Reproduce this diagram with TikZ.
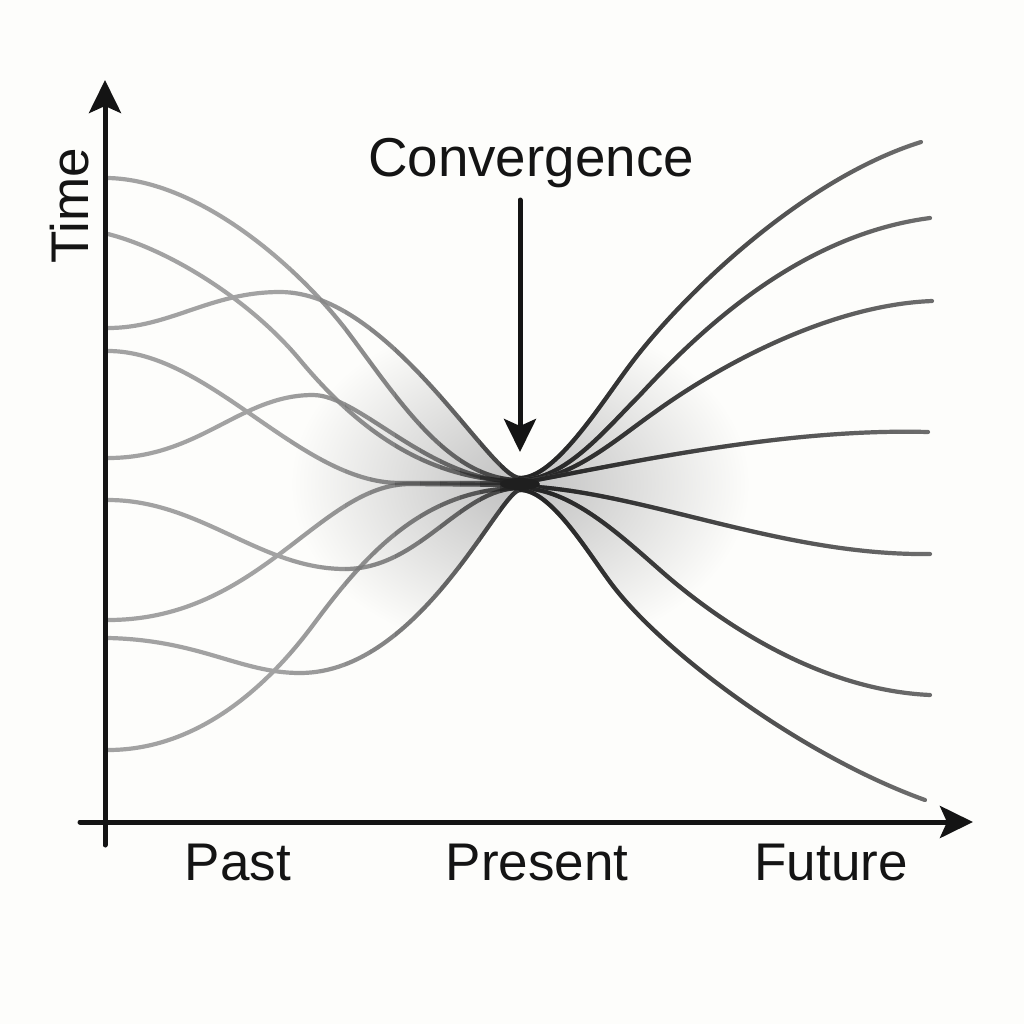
\documentclass[tikz,border=0pt]{standalone}
\usepackage{fontspec}
\setmainfont{Liberation Sans}
\usetikzlibrary{arrows.meta,fadings}
\tikzfading[name=fadeout, left color=transparent!0, middle color=transparent!45, right color=transparent!100]
\definecolor{lgray}{HTML}{A2A2A2}
\definecolor{dgray}{HTML}{222222}
\definecolor{rgray}{HTML}{6E6E6E}
\definecolor{bg}{HTML}{FDFDFB}
\newcommand\leftset[1]{%
  \draw[#1] (108,178) .. controls (200,180) and (300,268) .. (350,335) .. controls (400,402) and (450,480) .. (520,480);
  \draw[#1] (108,234) .. controls (170,250) and (250,300) .. (300,360) .. controls (350,420) and (420,481) .. (520,481);
  \draw[#1] (108,328) .. controls (170,328) and (210,292) .. (280,292) .. controls (390,292) and (490,478) .. (520,478);
  \draw[#1] (108,351) .. controls (210,351) and (300,483) .. (400,483) -- (520,483);
  \draw[#1] (108,458) .. controls (200,458) and (240,395) .. (313,395) .. controls (360,395) and (430,482) .. (520,482);
  \draw[#1] (108,500) .. controls (200,500) and (260,569) .. (345,569) .. controls (420,569) and (460,488) .. (520,488);
  \draw[#1] (108,620) .. controls (260,620) and (320,484) .. (410,484) -- (520,485);
  \draw[#1] (108,638) .. controls (200,640) and (240,673) .. (300,673) .. controls (420,673) and (500,490) .. (520,490);
  \draw[#1] (108,750) .. controls (200,750) and (270,683) .. (313,625) .. controls (360,562) and (420,488) .. (520,488);}
\newcommand\twotone[2]{%
  \draw[#1base] #2;
  \draw[#1dark] #2;}
\tikzset{
  curve/.style={line width=2.1pt, line cap=round},
  lbase/.style={curve, draw=lgray},
  ldark/.style={curve, draw=dgray},
  rbase/.style={curve, draw=rgray},
  rdark/.style={curve, draw=dgray, path fading=fadeout},
  axisline/.style={line width=2.5pt, line cap=round, draw=black!92,
    -{Stealth[length=16.5pt,width=16pt,inset=3.5pt]}},
  lbl/.style={font=\fontsize{26.5}{30}\selectfont, text=black!92, inner sep=0pt}
}
\begin{document}
\begin{tikzpicture}[x=0.5pt,y=-0.5pt]
\useasboundingbox (0,0) rectangle (1024,1024);
\fill[bg] (0,0) rectangle (1024,1024);
% funnel shading
\begin{scope}
\clip (108,328) .. controls (170,328) and (210,292) .. (280,292) .. controls (390,292) and (490,478) .. (520,478)
  .. controls (555,478) and (600,405) .. (630,365) .. controls (680,298) and (800,180) .. (921,142)
  -- (925,800) .. controls (800,755) and (660,650) .. (610,582) .. controls (585,548) and (550,490) .. (520,490)
  .. controls (500,490) and (420,673) .. (300,673) .. controls (240,673) and (200,640) .. (108,638) -- cycle;
\shade[inner color=black!25, outer color=bg] (520,484) ellipse (230 and 170);
\end{scope}
% left curves: light base, darkened towards the convergence point
\leftset{lbase}
\foreach \xa/\xb/\op in {290/320/0.05, 320/345/0.1, 345/370/0.16, 370/395/0.23, 395/420/0.31, 420/440/0.39, 440/460/0.48, 460/480/0.58, 480/500/0.7, 500/540/0.85}{
  \begin{scope}
    \clip (\xa,0) rectangle (\xb,1024);
    \leftset{ldark, opacity=\op}
  \end{scope}
}
% right curves
\twotone{r}{(520,478) .. controls (555,478) and (600,405) .. (630,365) .. controls (680,298) and (800,180) .. (921,142)}
\twotone{r}{(520,480) .. controls (565,480) and (605,430) .. (640,395) .. controls (700,330) and (800,235) .. (930,218)}
\twotone{r}{(520,481) .. controls (570,481) and (615,440) .. (655,412) .. controls (720,365) and (830,305) .. (932,301)}
\twotone{r}{(520,483) .. controls (620,465) and (780,428) .. (928,432)}
\twotone{r}{(520,486) .. controls (640,490) and (780,556) .. (930,554)}
\twotone{r}{(520,488) .. controls (570,488) and (620,535) .. (660,570) .. controls (720,623) and (820,690) .. (930,695)}
\twotone{r}{(520,490) .. controls (550,490) and (585,548) .. (610,582) .. controls (660,650) and (800,755) .. (925,800)}
\coordinate (neck) at (520,484);
\fill[black!88] (neck) ellipse (20 and 6);
% axes
\coordinate (ybot) at (105,845);
\coordinate (ytop) at (105,80);
\coordinate (xleft) at (80,822);
\coordinate (xright) at (973,822);
\draw[axisline] (ybot) -- (ytop);
\draw[axisline] (xleft) -- (xright);
% convergence arrow
\coordinate (arrtop) at (520,200);
\coordinate (arrtip) at (520,452);
\draw[axisline] (arrtop) -- (arrtip);
% labels
\node[lbl, anchor=base, font=\fontsize{27.4}{30}\selectfont] (conv) at (531,176) {Convergence};
\node[lbl, anchor=base] (past) at (238,880) {Past};
\node[lbl, anchor=base] (pres) at (537,880) {Present};
\node[lbl, anchor=base] (fut) at (831,880) {Future};
\node[lbl, anchor=base, rotate=90] (time) at (88,206) {Time};
\end{tikzpicture}
\end{document}
